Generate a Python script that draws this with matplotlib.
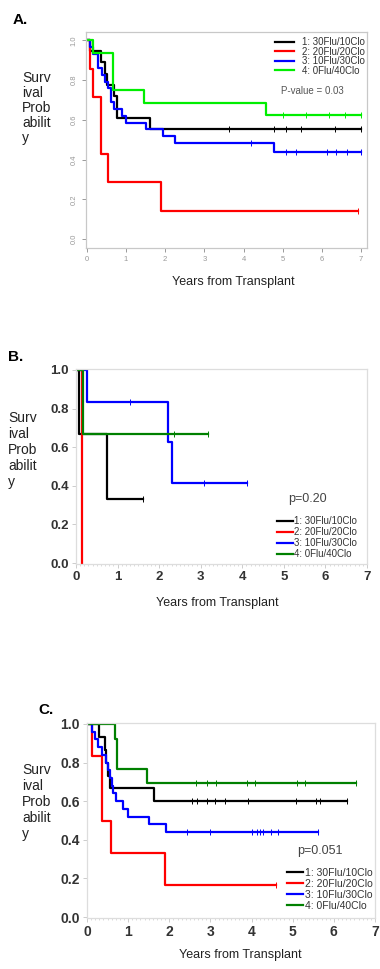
import numpy as np
import matplotlib
matplotlib.use("Agg")
import matplotlib.pyplot as plt

plt.rcParams['font.family'] = ['Liberation Sans', 'DejaVu Sans']

W, H = 380, 969

labels = ["1: 30Flu/10Clo", "2: 20Flu/20Clo", "3: 10Flu/30Clo", "4: 0Flu/40Clo"]

# ---- Panel A data (time in years, survival probability) ----
a_t1 = [0, 0.07, 0.36, 0.46, 0.52, 0.69, 0.76, 1.61, 7.0]
a_s1 = [1, 0.944, 0.889, 0.833, 0.778, 0.722, 0.611, 0.556, 0.556]
a_c1 = [3.62, 4.77, 5.08, 5.47, 6.34, 7.0]
a_t2 = [0, 0.08, 0.16, 0.36, 0.55, 1.9, 6.93]
a_s2 = [1, 0.857, 0.714, 0.429, 0.286, 0.143, 0.143]
a_c2 = [6.93]
a_t3 = [0, 0.07, 0.15, 0.28, 0.4, 0.47, 0.55, 0.62, 0.7, 0.9, 1.0, 1.52, 1.95, 2.25, 4.77, 7.0]
a_s3 = [1, 0.966, 0.931, 0.862, 0.828, 0.793, 0.759, 0.69, 0.655, 0.621, 0.586, 0.552, 0.517, 0.483, 0.44, 0.44]
a_c3 = [4.18, 5.08, 5.35, 6.12, 6.36, 6.63, 7.0]
a_t4 = [0, 0.17, 0.68, 1.46, 4.57, 7.0]
a_s4 = [1, 0.9375, 0.75, 0.6875, 0.625, 0.625]
a_c4 = [5.0, 5.6, 6.17, 6.6, 7.0]

# ---- Panel B data ----
b_t1 = [0, 0.07, 0.75, 1.6]
b_s1 = [1, 0.667, 0.333, 0.333]
b_c1 = [1.6]
b_t2 = [0, 0.14]
b_s2 = [1, 0.0]
b_c2 = []
b_t3 = [0, 0.26, 2.22, 2.31, 4.11]
b_s3 = [1, 0.833, 0.625, 0.417, 0.417]
b_c3 = [1.29, 3.09, 4.11]
b_t4 = [0, 0.17, 3.17]
b_s4 = [1, 0.667, 0.667]
b_c4 = [2.35, 3.17]

# ---- Panel C data ----
c_t1 = [0, 0.28, 0.43, 0.47, 0.51, 0.56, 1.63, 6.33]
c_s1 = [1, 0.933, 0.867, 0.8, 0.733, 0.667, 0.6, 0.6]
c_c1 = [2.55, 2.67, 2.92, 3.12, 3.36, 3.92, 5.08, 5.57, 5.67, 6.33]
c_t2 = [0, 0.12, 0.37, 0.59, 1.9, 4.59]
c_s2 = [1, 0.833, 0.5, 0.333, 0.167, 0.167]
c_c2 = [4.59]
c_t3 = [0, 0.12, 0.19, 0.27, 0.37, 0.47, 0.51, 0.55, 0.6, 0.63, 0.7, 0.87, 0.99, 1.51, 1.93, 5.61]
c_s3 = [1, 0.96, 0.92, 0.88, 0.84, 0.8, 0.76, 0.72, 0.68, 0.64, 0.6, 0.56, 0.52, 0.48, 0.44, 0.44]
c_c3 = [2.43, 3.0, 4.0, 4.12, 4.2, 4.28, 4.47, 4.64, 5.61]
c_t4 = [0, 0.68, 0.72, 1.47, 6.53]
c_s4 = [1, 0.923, 0.769, 0.692, 0.692]
c_c4 = [2.64, 2.92, 3.13, 3.9, 4.08, 5.11, 5.31, 6.53]


def rect(left, top, right, bottom):
    return [left / W, 1 - bottom / H, (right - left) / W, (bottom - top) / H]


def km(ax, t, s, cens, color):
    line, = ax.step(t, s, where='post', color=color, lw=1.6)
    if len(cens):
        idx = np.searchsorted(t, cens, side='right') - 1
        ax.plot(cens, np.array(s)[idx], ls='none', marker='|', ms=4,
                mew=0.7, color=color)
    return line


def frame(ax, col):
    for sp in ax.spines.values():
        sp.set_color(col)
        sp.set_linewidth(0.9)


fig = plt.figure(figsize=(W / 100, H / 100), dpi=100)

# ================= Panel A =================
axA = fig.add_axes(rect(86, 32, 367, 248))
colsA = ['black', '#ff0000', '#0000ff', '#00ee00']
hA = []
for t, s, c, col in [(a_t1, a_s1, a_c1, colsA[0]), (a_t2, a_s2, a_c2, colsA[1]),
                     (a_t3, a_s3, a_c3, colsA[2]), (a_t4, a_s4, a_c4, colsA[3])]:
    hA.append(km(axA, t, s, c, col))
axA.set_xlim(-0.02, 7.15)
axA.set_ylim(-0.044, 1.042)
axA.set_xticks(range(0, 8))
axA.set_yticks([0, 0.2, 0.4, 0.6, 0.8, 1.0])
axA.set_yticklabels(['0.0', '0.2', '0.4', '0.6', '0.8', '1.0'], rotation=90, va='center')
axA.tick_params(labelsize=5.5, colors='#999999', length=3, width=0.7, pad=3)
frame(axA, '#c8c8c8')
axA.legend(hA, labels, loc='upper left', bbox_to_anchor=(275 / W, 1 - 37 / H),
           bbox_transform=fig.transFigure, frameon=False, fontsize=7,
           handlelength=2.0, handletextpad=0.8, labelspacing=-0.05,
           borderpad=0, borderaxespad=0, labelcolor='#333333')
fig.text(281 / W, 1 - 91 / H, "P-value = 0.03", fontsize=7, color='#555555',
         va='center', ha='left')
fig.text(13 / W, 1 - 20 / H, "A.", fontsize=11, fontweight='bold', va='center')
fig.text(22 / W, 1 - 108 / H, "Surv\nival\nProb\nabilit\ny", fontsize=10,
         va='center', ha='left', linespacing=1.1, color='#222222')
fig.text(233 / W, 1 - 282 / H, "Years from Transplant", fontsize=9,
         ha='center', va='center', color='#222222')

# ================= Panel B =================
axB = fig.add_axes(rect(76, 369, 367, 564))
colsG = ['black', '#ff0000', '#0000ff', '#008000']
hB = []
for t, s, c, col in [(b_t1, b_s1, b_c1, colsG[0]), (b_t2, b_s2, b_c2, colsG[1]),
                     (b_t3, b_s3, b_c3, colsG[2]), (b_t4, b_s4, b_c4, colsG[3])]:
    hB.append(km(axB, t, s, c, col))
axB.set_xlim(0, 7)
axB.set_ylim(-0.005, 1.005)
axB.set_xticks(range(0, 8))
axB.set_yticks([0, 0.2, 0.4, 0.6, 0.8, 1.0])
axB.set_yticklabels(['0.0', '0.2', '0.4', '0.6', '0.8', '1.0'])
axB.set_xticks(np.arange(0, 7.01, 0.1), minor=True)
axB.tick_params(which='major', labelsize=9.5, colors='#cccccc', labelcolor='#333333',
                length=3, width=0.7, pad=2)
axB.tick_params(which='minor', colors='#cccccc', length=1.5, width=0.5)
for lab in axB.get_xticklabels() + axB.get_yticklabels():
    lab.set_fontweight('bold')
frame(axB, '#dddddd')
axB.legend(hB, labels, loc='upper left', bbox_to_anchor=(277 / W, 1 - 516 / H),
           bbox_transform=fig.transFigure, frameon=False, fontsize=7,
           handlelength=1.6, handletextpad=0.2, labelspacing=0.1,
           borderpad=0, borderaxespad=0, labelcolor='#333333')
fig.text(288 / W, 1 - 499 / H, "p=0.20", fontsize=9, color='#444444', va='center')
fig.text(8 / W, 1 - 357 / H, "B.", fontsize=11, fontweight='bold', va='center')
fig.text(8 / W, 1 - 450 / H, "Surv\nival\nProb\nabilit\ny", fontsize=10,
         va='center', ha='left', linespacing=1.2, color='#222222')
fig.text(217 / W, 1 - 603 / H, "Years from Transplant", fontsize=9,
         ha='center', va='center', color='#222222')

# ================= Panel C =================
axC = fig.add_axes(rect(87, 723, 375, 918))
hC = []
for t, s, c, col in [(c_t1, c_s1, c_c1, colsG[0]), (c_t2, c_s2, c_c2, colsG[1]),
                     (c_t3, c_s3, c_c3, colsG[2]), (c_t4, c_s4, c_c4, colsG[3])]:
    hC.append(km(axC, t, s, c, col))
axC.set_xlim(0, 6.94)
axC.set_ylim(-0.005, 1.005)
axC.set_xticks(range(0, 8))
axC.set_yticks([0, 0.2, 0.4, 0.6, 0.8, 1.0])
axC.set_yticklabels(['0.0', '0.2', '0.4', '0.6', '0.8', '1.0'])
axC.set_xticks(np.arange(0, 7.01, 0.1), minor=True)
axC.tick_params(which='major', labelsize=10, colors='#cccccc', labelcolor='#333333',
                length=3, width=0.7, pad=2)
axC.tick_params(which='minor', colors='#cccccc', length=1.5, width=0.5)
for lab in axC.get_xticklabels() + axC.get_yticklabels():
    lab.set_fontweight('bold')
for lab in axC.get_xticklabels():
    lab.set_clip_on(False)
frame(axC, '#dddddd')
axC.legend(hC, labels, loc='upper left', bbox_to_anchor=(287 / W, 1 - 868 / H),
           bbox_transform=fig.transFigure, frameon=False, fontsize=7.5,
           handlelength=1.5, handletextpad=0.2, labelspacing=0.1,
           borderpad=0, borderaxespad=0, labelcolor='#333333')
fig.text(297 / W, 1 - 851 / H, "p=0.051", fontsize=9, color='#444444', va='center')
fig.text(38 / W, 1 - 710 / H, "C.", fontsize=11, fontweight='bold', va='center')
fig.text(22 / W, 1 - 802 / H, "Surv\nival\nProb\nabilit\ny", fontsize=10,
         va='center', ha='left', linespacing=1.2, color='#222222')
fig.text(240 / W, 1 - 955 / H, "Years from Transplant", fontsize=9,
         ha='center', va='center', color='#222222')

fig.savefig("out.png", dpi=100)
